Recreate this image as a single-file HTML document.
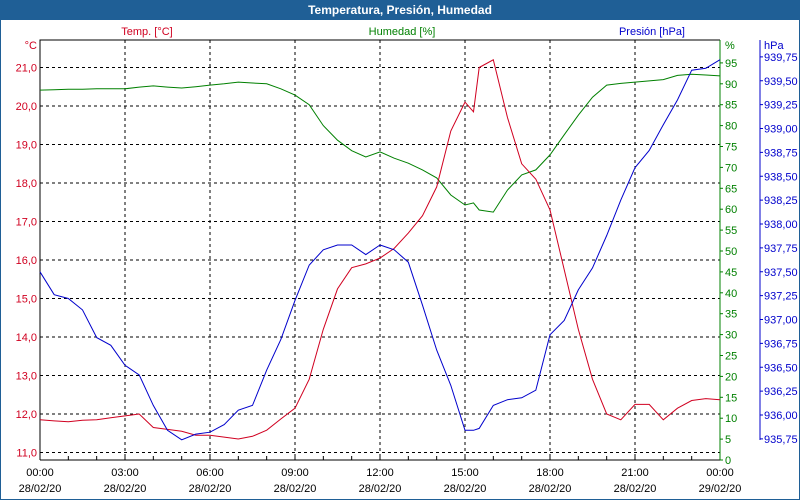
<!DOCTYPE html>
<html><head><meta charset="utf-8"><style>
body{margin:0;background:#fff}
#wrap{position:relative;width:798px;height:499px;border:1px solid #1f5f96;border-top:none;overflow:hidden;background:#fff}
#title{position:absolute;left:0;top:0;width:798px;height:20px;background:#1f5f96;color:#fff;font:bold 12px "Liberation Sans",sans-serif;text-align:center;line-height:21px}
svg{position:absolute;left:-1px;top:0}
text{font-family:"Liberation Sans",sans-serif;font-size:11px}
</style></head><body>
<div id="wrap">
<div id="title">Temperatura, Presión, Humedad</div>
<svg id="chart" width="800" height="500"></svg>
</div>
<script>
const hours=[0,0.5,1,1.5,2,2.5,3,3.5,4,4.5,5,5.5,6,6.5,7,7.5,8,8.5,9,9.5,10,10.5,11,11.5,12,12.5,13,13.5,14,14.5,15,15.3,15.5,16,16.5,17,17.5,18,18.5,19,19.5,20,20.5,21,21.5,22,22.5,23,23.5,24];
const tempVals=[11.85,11.82,11.8,11.84,11.85,11.9,11.95,12.0,11.65,11.6,11.55,11.45,11.45,11.4,11.35,11.42,11.58,11.87,12.15,12.9,14.2,15.25,15.8,15.9,16.05,16.3,16.7,17.15,17.9,19.35,20.1,19.85,21.0,21.2,19.7,18.5,18.1,17.3,15.75,14.2,12.9,12.0,11.85,12.25,12.25,11.85,12.15,12.35,12.4,12.37];
const humVals=[88.5,88.6,88.7,88.7,88.8,88.8,88.8,89.2,89.5,89.2,89,89.3,89.7,90,90.4,90.2,90,88.8,87.3,85,80,76.5,74,72.5,73.7,72.2,71,69.4,67.5,63.4,61,61.5,59.8,59.3,64.6,68.2,69.4,73,77.8,82.5,86.8,89.7,90.1,90.4,90.7,91,92,92.3,92.1,91.9];
const presVals=[937.5,937.26,937.22,937.1,936.81,936.73,936.52,936.42,936.1,935.84,935.74,935.8,935.82,935.9,936.05,936.1,936.47,936.79,937.2,937.57,937.73,937.78,937.78,937.68,937.78,937.73,937.6,937.15,936.68,936.31,935.84,935.84,935.86,936.1,936.16,936.18,936.26,936.84,936.99,937.31,937.54,937.88,938.25,938.59,938.77,939.04,939.3,939.61,939.63,939.72];
const tempTicks=["11,0","12,0","13,0","14,0","15,0","16,0","17,0","18,0","19,0","20,0","21,0"];
const humTicks=[0,5,10,15,20,25,30,35,40,45,50,55,60,65,70,75,80,85,90,95];
const presTicks=["935,75","936,00","936,25","936,50","936,75","937,00","937,25","937,50","937,75","938,00","938,25","938,50","938,75","939,00","939,25","939,50","939,75"];
const timeLabels=["00:00","03:00","06:00","09:00","12:00","15:00","18:00","21:00","00:00"];
const dateLabels=["28/02/20","28/02/20","28/02/20","28/02/20","28/02/20","28/02/20","28/02/20","28/02/20","29/02/20"];

const L=40,R=720,T=40,B=460;
const x=h=>L+h*(R-L)/24;
const yT=t=>67.5+(21-t)*38.5;
const yH=v=>460-v*4.18;
const yP=p=>415-(p-936)*95.5;
const svg=document.getElementById('chart');const NS='http://www.w3.org/2000/svg';
function mk(tag,a){const e=document.createElementNS(NS,tag);for(const k in a)e.setAttribute(k,a[k]);svg.appendChild(e);return e;}
function txt(s,xx,yy,fill,anchor){const e=mk('text',{x:xx,y:yy,fill:fill,'text-anchor':anchor});e.textContent=s;return e;}
tempTicks.forEach((s,i)=>{const yy=yT(11+i);const g=mk('line',{x1:L,x2:R,y1:yy,y2:yy,stroke:'#000','stroke-dasharray':'3,3'});


const t=txt(s,37,yy+4,'#d00020','end');

});
for(let i=1;i<8;i++){const g=mk('line',{x1:x(i*3),x2:x(i*3),y1:T,y2:B,stroke:'#000','stroke-dasharray':'3,3'});

}
for(let h=1;h<24;h++){const t=mk('line',{x1:x(h),x2:x(h),y1:B,y2:B-4,stroke:'#000'});

}
const fr=mk('path',{d:`M${L} ${B}V${T}H${R}`,stroke:'#000',fill:'none'});


const fb=mk('line',{x1:L,x2:R,y1:B,y2:B,stroke:'#000'});


const ga=mk('line',{x1:R,x2:R,y1:T,y2:B,stroke:'#008000'});


const pa=mk('line',{x1:760,x2:760,y1:T,y2:B-20,stroke:'#0000cc'});


humTicks.forEach(v=>{const yy=yH(v);mk('line',{x1:R,x2:R+3,y1:yy,y2:yy,stroke:'#008000'});
const t=txt(String(v),725,yy+4,'#008000','start');

});
presTicks.forEach((s,i)=>{const yy=yP(935.75+i*0.25);mk('line',{x1:760,x2:763,y1:yy,y2:yy,stroke:'#0000cc'});
const t=txt(s,764,yy+4,'#0000cc','start');

});
timeLabels.forEach((s,i)=>{const t=txt(s,x(i*3),476,'#000','middle');


const d=txt(dateLabels[i],x(i*3),492,'#000','middle');

});
[["°C",37,49,'#d00020','end','temp-unit'],["Temp. [°C]",147,35,'#d00020','middle','temp-legend'],["Humedad [%]",402,35,'#008000','middle','humidity-legend'],["Presión [hPa]",685,35,'#0000cc','end','pressure-legend'],["%",725,49,'#008000','start','humidity-unit'],["hPa",764,49,'#0000cc','start','pressure-unit']].forEach(a=>{const t=txt(a[0],a[1],a[2],a[3],a[4]);

});
function series(vals,fy,col,name){const d=hours.map((h,i)=>(i?'L':'M')+x(h).toFixed(1)+' '+fy(vals[i]).toFixed(1)).join('');
const p=mk('path',{d:d,stroke:col,fill:'none','stroke-width':1});

}
series(humVals,yH,'#008000','humidity-line');
series(tempVals,yT,'#d00020','temperature-line');
series(presVals,yP,'#0000cc','pressure-line');
</script>
</body></html>
